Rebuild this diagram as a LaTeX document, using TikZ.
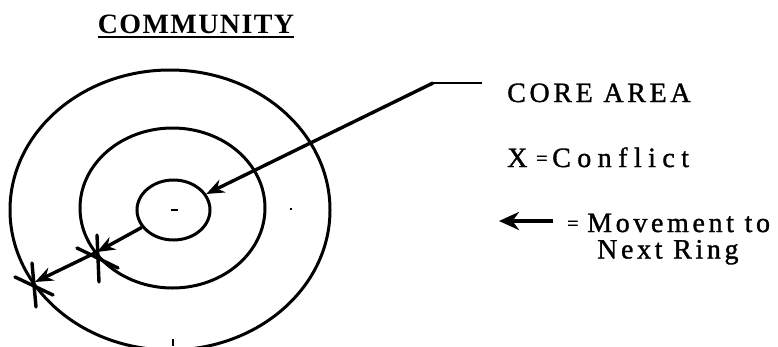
\documentclass[tikz,border=0pt]{standalone}
\usepackage{fontspec}
\usetikzlibrary{shapes.geometric,arrows.meta}
\newfontfamily\lblfont[LetterSpace=13,FakeBold=1.2]{Liberation Serif}
\newfontfamily\widefont[LetterSpace=23,FakeBold=1.2]{Liberation Serif}
\newfontfamily\ttlfont[LetterSpace=5]{Liberation Serif}
\begin{document}
\begin{tikzpicture}[x=1pt,y=-1pt,
  ring/.style={ellipse,draw,line width=3pt,inner sep=0pt,anchor=center},
  lbl/.style={anchor=base west,inner sep=0pt,font=\lblfont\fontsize{28}{30}\selectfont},
  wlbl/.style={anchor=base west,inner sep=0pt,font=\widefont\fontsize{28}{30}\selectfont},
  eqs/.style={anchor=base west,inner sep=0pt,font=\lblfont\fontsize{20}{24}\selectfont},
  ttl/.style={anchor=base,inner sep=0pt,font=\ttlfont\bfseries\fontsize{28}{32}\selectfont},
  mv/.style={line width=3.4pt,-{Stealth[length=18pt,width=14pt]}},
  xmark/.style={line width=3.4pt,line cap=round}]
\useasboundingbox (0,0) rectangle (778,346);
% rings
\node[ring,minimum width=320pt,minimum height=280pt] (outer) at (170,210) {};
\node[ring,minimum width=185pt,minimum height=160pt] (middle) at (172.5,208) {};
\node[ring,minimum width=73pt,minimum height=60pt] (inner) at (173.5,210) {};
% title
\node[ttl] (title) at (196,33) {COMMUNITY};
\draw[line width=2pt] (title.base west) ++(0,3.5) -- ([yshift=-3.5pt]title.base east);
% conflict points
\coordinate (x1) at (97,252);
\coordinate (x2) at (35,282);
% leader line to core area
\coordinate (lead) at (482,83);
\coordinate (bend) at (433,83);
\draw[line width=2.2pt] (lead) -- (bend);
\draw[mv] (bend) -- (inner);
% movement arrows
\draw[mv] (inner) -- (x1);
\draw[mv] (x1) -- (x2);
% X marks
\draw[xmark] (x1) ++(0,-17) -- ++(2,47);
\draw[xmark] (x1) ++(-20,-4) -- ++(41,20);
\draw[xmark] (x2) ++(-3,-19) -- ++(4,44);
\draw[xmark] (x2) ++(-20,-5) -- ++(38,18);
% small marks
\draw[line width=1.5pt] (inner.center) ++(-3,0) -- ++(7,0);
\draw[line width=1.5pt] (290,209) -- (291.5,209);
\draw[line width=1.5pt] (173,339) -- (173,346);
% legend
\node[lbl] (core) at (507,102) {CORE AREA};
\node[lbl] (xl) at (507,167) {X};
\node[eqs] (eq1) at (536,165) {=};
\node[wlbl] (confl) at (552,167) {Conflict};
\coordinate (la) at (553,221);
\coordinate (lb) at (499,221);
\draw[line width=3.8pt,-{Stealth[length=20pt,width=18pt]}] (la) -- (lb);
\node[eqs] (eq2) at (567,230) {=};
\node[lbl] (mov) at (587,232) {Movement to};
\node[lbl] (next) at (597,258.5) {Next Ring};
\end{tikzpicture}
\end{document}
